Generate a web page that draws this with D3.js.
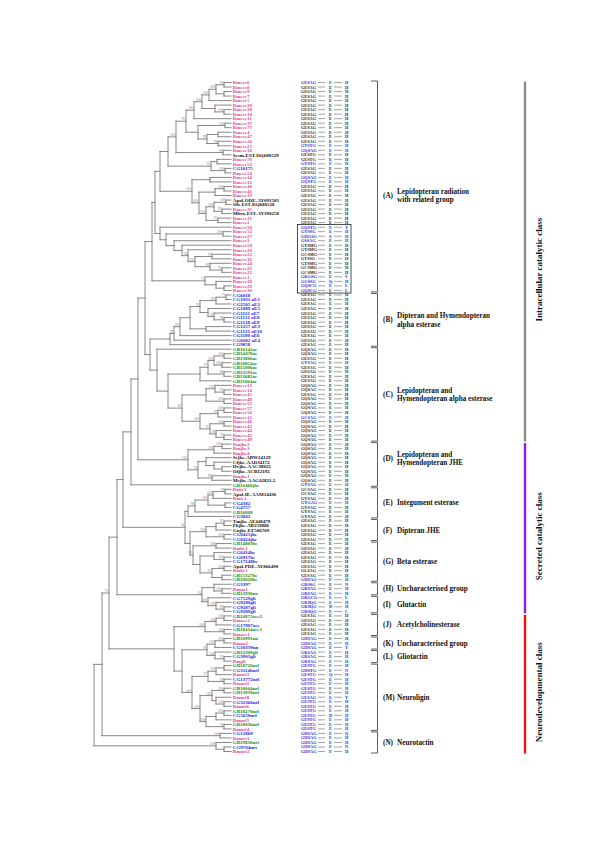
<!DOCTYPE html>
<html><head><meta charset="utf-8">
<script src="https://cdn.jsdelivr.net/npm/d3@7"></script>
<style>body{margin:0;background:#fff}svg{display:block}</style>
</head><body><svg id="chart" width="600" height="849"></svg>
<script>
// ---------- DATA ----------
const leafNames = [
"Bmcce6","Bmcce8","Bmcce9","Bmcce7","Bmcce5","Bmcce39","Bmcce38","Bmcce10","Bmcce11","Bmcce37",
"Bmcce77","Bmcce4","Bmcce47","Bmcce26","Bmcce25","Bmcce18","Sesm-EST-DQ680529","Bmcce78","Bmcce53","CG10175",
"Bmcce54","Bmcce34","Bmcce12","Bmcce40","Bmcce41","Bmcce33","Apol-ODE-AY091583","Sib-EST-DQ680528","Bmcce35","Mbra-EST-AY390258",
"Bmcce31","Bmcce2","Bmcce50","Bmcce52","Bmcce27","Bmcce3","Bmcce58","Bmcce20","Bmcce22","Bmcce16",
"Bmcce24","Bmcce23","Bmcce21","Bmcce1","Bmcce28","Bmcce29","Bmcce30",
"CG6018","CG1031 aE1","CG2505 aE2","CG1089 aE5","CG1112 aE7","CG1121 aE8","CG1128 aE9","CG1257 aE3","CG1131 aE10","CG1180 aE6","CG6082 aE4","CG9858",
"GB16342ae","GB14478ae","GB13806ae","GB10854ae","GB15006ae","GB13591ae","GB13682ae","GB11064ae",
"Bmcce13","Bmcce14","Bmcce45","Bmcce48","Bmcce55","Bmcce57","Bmcce56","Bmcce15","Bmcce46","Bmcce42","Bmcce44","Bmcce43","Bmcce49",
"Bmjhe2","Bmjhe3","Bmjhe4","Sejhe-ABW24129","Cfjhe-AAD34172","Hvjhe-AAC38822","Ofjhe-ACB12192","Bmjhe1","Msjhe-AAG42821.2","GB16466jhe",
"Bmie1","Apol-IE-AAM14436","Bmie2","CG4382","CG4757","GB16809","CG3841",
"Tmjhe-AF448479","Phjhe-AB259886","Gujhe-EF506769","CG8425jhe","CG8424jhe",
"GB14803be","Bmbe2","CG6414be","CG6917be","CG17148be","Apol-PDE-AY866490","Bmbe1","GB15327be","GB10820be",
"CG3397","Bmua1","GB13930ua",
"CG7529gli","CG9280gli","CG9287gli","CG9289gli",
"GB14872ace2","Bmace2","CG17907ace","GB18414ace1","Bmace1",
"GB10991un","Bmua2","CG10339un",
"GB12309gli","CG3903gli","Bmgli",
"GB18720nrl","CG31146nrl","Bmnrl3","CG13772nrl","Bmnrl2","GB10044nrl","GB13939nrl","Bmnrl8","CG32366nrl","Bmnrl6","GB18270nrl","CG5650nrl","Bmnrl5","GB18036nrl","Bmnrl4",
"CG12869","Bmnrt1","GB19830nrt","CG9704nrt","Bmnrt2"
];

const motifSeq = [
"GESAG","GESAG","GESAG","GESAG","GESAG","GESAG","GESAG","GESAG","GESAG","GESAG",
"GESAG","GESAG","GESAG","GESAG","GTSTG","GQSAG","GESTG","GESTG","GYSTG","GESAG",
"GESAG","GQSAG","GQSTG","GESAG","GESAG","GESAG","GESAG","GESAG","GESAG","GESAG",
"GESAG","GESAG","GQSTG","GYSSG","GHGSG","GSSAG","GTSMG","GTSMG","GCSMG","GTSSG",
"GTSMG","GCSMG","GCSMG","GKGSG","GGSSG","GQSCG","GQSCG",
"GESAG","GESAG","GESAG","GESAG","GESAG","GESAG","GESAG","GESAG","GESAG","GESAG","GESAG","GESAG",
"GQSAG","GQSAG","GESAG","GYSAG","GESAG","GESAG","GESAG","GESAG",
"GQSAG","GQSAG","GESAG","GQSAG","GQSAG","GQSAG","GQSAG","GCSAG","GQSAG","GQSAG","GQSAG","GQSAG","GQSAG",
"GQSAG","GQSAG","GQSAG","GQSAG","GQSAG","GQSAG","GQSAG","GQSAG","GQSAG","GYSAG",
"GCSAG","GCSAG","GYSAG","GYGAG","GYSAG","GYSAG","GYSAG",
"GESAG","GESAG","GESAG","GESAG","GESAG",
"GESAG","GESAG","GESAG","GESAG","GESAG","GESAG","GLSAG","GESAG","GHSAG",
"GRSSG","GRSAG","GRSAG",
"GRGCG","GRSQG","GRSQG","GRSQG",
"GESAG","GESAG","GESAG","GESAG","GESAG",
"GHSAG","GHSAG","GHSAG",
"GRSAG","GRSAG","GRSAG",
"GESTG","GHSTG","GESTG","GESTG","GESTG","GESTG","GESTG","GESAG","GESTG","GESTG","GESTG","GESTG","GESTG","GESTG","GESTG",
"GHSAG","GHSAG","GHSAG","GHSAG","GHSAG"
];
const motifEOther = {34:"S", 44:"Q", 116:"D", 131:"Q", 140:"D"};
const motifHOther = {32:"Y", 43:"S", 45:"L", 46:"L", 111:"N", 114:"L", 117:"I", 125:"Y", 130:"N", 136:"Y", 144:"Q", 147:"N"};
const atypicalRows = [0,14,15,18,21,22,32,33,34,35,43,44,45,46,62,74,89,93,110,
  111,112,113,114,115,116,117,123,124,125,126,127,128,
  129,130,131,132,133,134,135,136,137,138,139,140,141,142,143,144,145,146,147,148];
const boxedRows = [32, 46];

// internal nodes: [id, height from root, bootstrap, children (leaf index or node id)]
const nodeList = [
["T1",130,90,[0,1]],["T2",130,null,[2,3]],["T3",122,100,["T1","T2"]],["T4",115,100,["T3",4]],
["T5",130,100,[6,7]],["T5b",121,null,[5,"T5"]],["T6",108,100,["T4","T5b"]],["T7",100,100,["T6",8]],
["T8",131,100,[9,10]],["T10",124,null,[11,12]],["T9",124,99,[13,14]],["T11",113,99,["T10","T9"]],
["T12",104,null,["T8","T11"]],["T13",92,95,["T7","T12"]],["T14",129,90,[15,16]],["T17",82,100,["T13","T14"]],
["T15",123,null,[17,18]],["T16",131,100,[19,20]],["T15b",117,95,["T15","T16"]],["T18",74,null,["T17","T15b"]],
["U9",116,null,[21,22]],["U1",130,100,[23,24]],["U2",121,null,["U1",25]],["U3",132,100,[26,27]],
["U4",128,99,[28,29]],["U5",120,100,["U3","U4"]],["U6",124,93,[30,31]],["U7",112,100,["U5","U6"]],
["U8",105,100,["U2","U7"]],["U10",98,100,["U9","U8"]],["Atm",66,null,["T18","U10"]],
["V1",129,100,[33,34]],["V5",128,91,[41,42]],["V6",116,89,[40,"V5"]],["V7",118,97,[38,39]],
["V8",101,100,["V7","V6"]],["V9",94,94,[37,"V8"]],["V10",88,null,[36,"V9"]],["V11",80,null,[35,"V10"]],
["V12",72,null,["V1","V11"]],["V13",66,null,[32,"V12"]],["Aup",61,null,["Atm","V13"]],
["W1",130,null,[45,46]],["W2",122,null,[44,"W1"]],["W3",111,75,[43,"W2"]],["Aroot",58,null,["Aup","W3"]],
["B1",132,75,[47,48]],["B2",122,100,["B1",49]],["B3",130,99,[52,53]],["B4",120,97,[51,"B3"]],
["B5",114,null,[50,"B4"]],["B6",106,76,["B2","B5"]],["B7",112,null,[54,55]],["B8",96,null,["B6","B7"]],
["B9",86,100,["B8",56]],["B10",80,78,["B9",57]],["B11",76,null,["B10",58]],
["C1",130,100,[60,61]],["C2",128,100,[62,63]],["C3",120,100,["C1","C2"]],["C4",130,96,[64,65]],
["C5",114,97,["C3","C4"]],["C6",106,null,["C5",66]],["C7",130,95,[68,69]],["C8",121,100,[67,"C7"]],
["C9",130,100,[70,71]],["C10",112,null,["C8","C9"]],["C11",130,100,[72,73]],["C12",124,99,["C11",74]],
["C13",130,100,[75,76]],["C14",130,79,[78,79]],["C15",122,96,[77,"C14"]],["C16",116,97,["C13","C15"]],
["C17",106,100,["C12","C16"]],["C18",88,81,["C10","C17"]],["C20",74,null,["C6","C18"]],["Croot",63,null,[59,"C20"]],
["BC",56,null,["B11","Croot"]],["X7",51,null,["Aroot","BC"]],
["D1",128,100,[80,81]],["D2",120,100,["D1",82]],["D3",128,null,[85,86]],["D4",120,null,[84,"D3"]],
["D5",112,null,[83,"D4"]],["D6",118,99,[87,88]],["D7",104,78,["D5","D6"]],["D8",94,100,["D2","D7"]],
["X6",44,null,["X7","D8"]],["X5",37,null,["X6",89]],
["E1",131,99,[90,91]],["E2",119,100,["E1",92]],["E3",131,null,[93,94]],["E4",114,100,["E2","E3"]],
["E5",101,96,["E4",95]],["E6",94,null,["E5",96]],
["F1",130,97,[97,98]],["F2",122,null,["F1",99]],["F3",130,100,[100,101]],["F4",112,100,["F2","F3"]],
["G1",122,100,[102,103]],["G2",130,100,[105,106]],["G3",120,null,[104,"G2"]],["G4",130,100,[107,108]],
["G5",128,null,[109,110]],["G6",118,92,["G4","G5"]],["G7",106,null,["G3","G6"]],["G8",99,90,["G1","G7"]],
["FG",96,null,["F4","G8"]],["EFG",91,94,["E6","FG"]],["X4",29,null,["X5","EFG"]],
["H1",128,100,[112,113]],["H2",120,null,[111,"H1"]],["I1",130,99,[116,117]],["I2",122,100,[115,"I1"]],
["I3",114,100,[114,"I2"]],["HI",108,94,["H2","I3"]],["X3",23,null,["X4","HI"]],
["J1",130,100,[118,119]],["J2",122,100,["J1",120]],["J3",130,100,[121,122]],["J4",111,100,["J2","J3"]],
["K1",130,100,[123,124]],["K2",121,100,["K1",125]],["L1",130,97,[127,128]],["L2",121,100,[126,"L1"]],
["KL",113,78,["K2","L2"]],
["Ma",130,null,[129,130]],["Mb",122,100,["Ma",131]],["M1",130,99,[132,133]],["Mc",114,97,["Mb","M1"]],
["Md",130,100,[134,135]],["Me0",130,100,[137,138]],["Me",122,null,[136,"Me0"]],["Mf",118,100,["Md","Me"]],
["Mg",130,100,[139,140]],["Mh",122,null,["Mg",141]],["Mi",130,78,[142,143]],["Mj",112,100,["Mh","Mi"]],
["Mk",106,100,["Mf","Mj"]],["Ml",98,100,["Mc","Mk"]],["KLM",88,null,["KL","Ml"]],["JM",80,null,["J4","KLM"]],
["X2",15,73,["X3","JM"]],
["Na",126,100,[144,145]],["Nb",130,null,[147,148]],["Nc",122,100,[146,"Nb"]],
["X1",8,null,["X2","Na"]],["R",0,null,["X1","Nc"]]
];
const tipHeight = 137;

const groupLetters = ["A","B","C","D","E","F","G","H","I","J","K","L","M","N"];
const groupNames = [
 ["Lepidopteran radiation","with related group"],
 ["Dipteran and Hymendopteran","alpha esterase"],
 ["Lepidopteran and","Hymendopteran alpha esterase"],
 ["Lepidopteran and","Hymendopteran JHE"],
 ["Integument esterase"],["Dipteran JHE"],["Beta esterase"],["Uncharacterised group"],
 ["Glutactin"],["Acetylcholinesterase"],["Uncharacterised group"],["Gliotactin"],
 ["Neuroligin"],["Neurotactin"]
];
const groupFirst = [0,47,59,80,90,97,102,111,114,118,123,126,129,144];
const groupLast  = [46,58,79,89,96,101,110,113,117,122,125,128,143,148];

const classNames = ["Intracellular catalytic class","Secreted catalytic class","Neurodevelopmental class"];
const classFirst = [0,80,118];
const classLast  = [79,117,148];

// ---------- STYLE ----------
const serif = "'Liberation Serif','DejaVu Serif',serif";
const colMagenta = "#e23fa0", colBlue = "#1c1cdc", colGreen = "#138a13";
const classColors = ["#8c8c8c","#8a1cf0","#f01010"];
const labelNudge = {A: 9, D: -6};   // layout tweak for two group captions
const classTextShift = 8;
function leafColor(n){
  if (n.startsWith("Bm")) return colMagenta;
  if (n.startsWith("CG")) return colBlue;
  if (n.startsWith("GB")) return colGreen;
  return "#111";
}

// ---------- SCALES ----------
const svg = d3.select("#chart");
svg.append("rect").attr("width",600).attr("height",849).attr("fill","#fff");
const x = d3.scaleLinear().domain([0, tipHeight]).range([94, 231]);
const y = d3.scalePoint().domain(d3.range(leafNames.length)).range([82.5, 751.5]);

// ---------- TREE ----------
const byId = new Map(nodeList.map(([id,h,s,ch]) => [id,{id,h,s,ch}]));
function resolve(c){ return typeof c === "number" ? {leaf:c, h:tipHeight} : byId.get(c); }
function layout(n){
  if (n.leaf !== undefined){ n.y = y(n.leaf); return n; }
  n.kids = n.ch.map(c => layout(resolve(c)));
  n.y = (n.kids[0].y + n.kids[n.kids.length-1].y)/2;
  return n;
}
const root = layout(byId.get("R"));
const segs = [], supports = [];
(function walk(n){
  if (n.leaf !== undefined) return;
  segs.push([x(n.h), n.kids[0].y, x(n.h), n.kids[n.kids.length-1].y]);
  n.kids.forEach(k => { segs.push([x(n.h), k.y, x(k.h), k.y]); walk(k); });
  if (n.s != null) supports.push(n);
})(root);

const gTree = svg.append("g");
gTree.selectAll("line").data(segs).join("line")
  .attr("x1",d=>d[0]).attr("y1",d=>d[1]).attr("x2",d=>d[2]).attr("y2",d=>d[3])
  .attr("stroke","#6a6a6a").attr("stroke-width",0.8).attr("stroke-linecap","square");
gTree.selectAll("text").data(supports).join("text")
  .attr("x",d=>x(d.h)-0.8).attr("y",d=>d.y-0.9)
  .attr("text-anchor","end").attr("font-family",serif).attr("font-size",3.4)
  .attr("fill","#777").text(d=>d.s);

// ---------- LEAF LABELS ----------
const rows = leafNames.map((n,i)=>({n,i,y:y(i),atyp:atypicalRows.includes(i)}));
svg.append("g").selectAll("text").data(rows).join("text")
  .attr("x", x(tipHeight)+1.8).attr("y", d=>d.y).attr("dy","0.35em")
  .attr("font-family",serif).attr("font-weight","bold").attr("font-size",5)
  .attr("fill", d=>leafColor(d.n)).text(d=>d.n);

// ---------- MOTIFS ----------
const gM = svg.append("g").attr("font-family",serif).attr("font-size",4.3).attr("font-weight","bold");
const mColor = d => d.atyp ? colBlue : "#222";
gM.selectAll(".m1").data(rows).join("text").attr("class","m1")
  .attr("x",301).attr("y",d=>d.y).attr("dy","0.35em").attr("fill",mColor).text(d=>motifSeq[d.i]);
gM.selectAll(".m2").data(rows).join("text").attr("class","m2")
  .attr("x",329).attr("y",d=>d.y).attr("dy","0.35em").attr("fill",mColor).text(d=>motifEOther[d.i]||"E");
gM.selectAll(".m3").data(rows).join("text").attr("class","m3")
  .attr("x",345).attr("y",d=>d.y).attr("dy","0.35em").attr("fill",mColor).text(d=>motifHOther[d.i]||"H");
const dashes = [];
rows.forEach(d=>{ dashes.push([318,325,d.y]); dashes.push([334,342,d.y]); });
gM.selectAll("line").data(dashes).join("line")
  .attr("x1",d=>d[0]).attr("x2",d=>d[1]).attr("y1",d=>d[2]).attr("y2",d=>d[2])
  .attr("stroke","#333").attr("stroke-width",0.45);
svg.append("rect")
  .attr("x",297.5).attr("y",y(boxedRows[0])-2.6)
  .attr("width",53.5).attr("height",y(boxedRows[1])-y(boxedRows[0])+5.2)
  .attr("fill","none").attr("stroke","#222").attr("stroke-width",0.8);

// ---------- GROUP BRACKETS ----------
const groups = groupLetters.map((L,i)=>({L, names:groupNames[i], y0:y(groupFirst[i])-1.5, y1:y(groupLast[i])+1.5}));
const gB = svg.append("g");
gB.selectAll("path").data(groups).join("path")
  .attr("d",d=>`M371,${d.y0}H377.5V${d.y1}H371`)
  .attr("fill","none").attr("stroke","#333").attr("stroke-width",0.8);
const gl = gB.selectAll("g.lab").data(groups).join("g").attr("class","lab")
  .attr("font-family",serif).attr("font-weight","bold").attr("font-size",7.2).attr("fill","#111");
gl.each(function(d){
  const g = d3.select(this), mid = (d.y0+d.y1)/2 + (labelNudge[d.L]||0);
  g.append("text").attr("x",383).attr("y",mid).attr("dy","0.35em").text(`(${d.L})`);
  if (d.names.length === 1){
    g.append("text").attr("x",397).attr("y",mid).attr("dy","0.35em").text(d.names[0]);
  } else {
    g.append("text").attr("x",397).attr("y",mid-4.3).attr("dy","0.35em").text(d.names[0]);
    g.append("text").attr("x",397).attr("y",mid+4.3).attr("dy","0.35em").text(d.names[1]);
  }
});

// ---------- CLASS BARS ----------
const classes = classNames.map((n,i)=>({n, y0:y(classFirst[i])-1, y1:y(classLast[i])+2, c:classColors[i]}));
const gC = svg.append("g");
gC.selectAll("line").data(classes).join("line")
  .attr("x1",525).attr("x2",525).attr("y1",d=>d.y0).attr("y2",d=>d.y1)
  .attr("stroke",d=>d.c).attr("stroke-width",2.4);
gC.selectAll("text").data(classes).join("text")
  .attr("transform",d=>`translate(539,${(d.y0+d.y1)/2 + classTextShift}) rotate(-90)`)
  .attr("text-anchor","middle").attr("dy","0.35em")
  .attr("font-family",serif).attr("font-weight","bold").attr("font-size",9).attr("fill","#111")
  .text(d=>d.n);
</script></body></html>
